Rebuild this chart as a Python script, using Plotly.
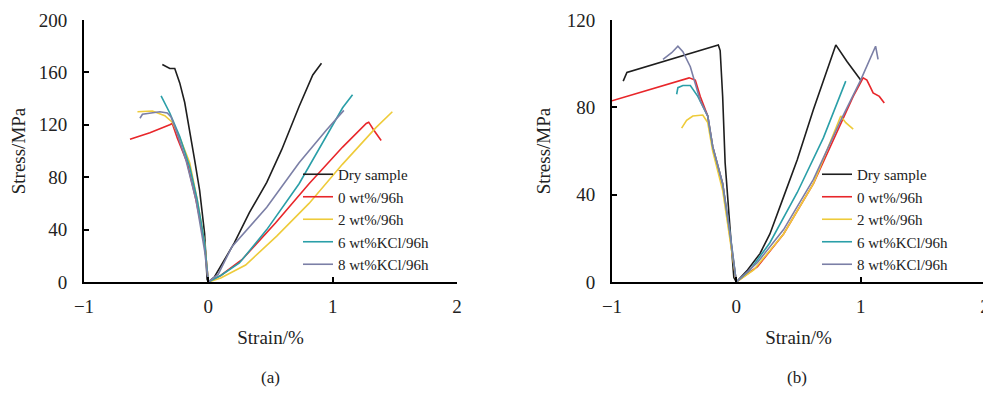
import plotly.graph_objects as go

# ---------------- data: panel (a) ----------------
series_names = ["Dry sample", "0 wt%/96h", "2 wt%/96h", "6 wt%KCl/96h", "8 wt%KCl/96h"]
colors = ["#1e1e1e", "#e8262a", "#eecb3a", "#2a9fa8", "#7b7fa6"]

dry_a_x = [-0.37, -0.31, -0.27, -0.23, -0.19, -0.15, -0.11, -0.07, -0.03, -0.01, 0,
           0.05, 0.10, 0.21, 0.33, 0.47, 0.59, 0.73, 0.84, 0.91]
dry_a_y = [166, 163, 163, 152, 137, 116, 93, 70, 37, 2, 0,
           4, 12, 30, 53, 76, 101, 134, 158, 167]

red_a_x = [-0.63, -0.47, -0.31, -0.29, -0.25, -0.17, -0.10, -0.03, 0,
           0.10, 0.27, 0.54, 0.81, 1.08, 1.27, 1.29, 1.33, 1.39]
red_a_y = [109, 114, 120, 121, 110, 91, 63, 30, 0,
           5, 17, 45, 75, 103, 121, 122, 116, 108]

yel_a_x = [-0.57, -0.45, -0.35, -0.29, -0.22, -0.15, -0.09, -0.03, 0,
           0.10, 0.30, 0.55, 0.81, 1.08, 1.35, 1.48]
yel_a_y = [130, 130.5, 127, 122, 108, 91, 63, 30, 0,
           3, 13, 35, 60, 90, 118, 130]

teal_a_x = [-0.38, -0.31, -0.23, -0.15, -0.09, -0.03, 0,
            0.10, 0.25, 0.47, 0.73, 0.95, 1.08, 1.16]
teal_a_y = [142, 129, 111, 88, 63, 30, 0,
            5, 14.5, 40, 75, 111, 133, 143]

gray_a_x = [-0.55, -0.53, -0.39, -0.33, -0.30, -0.26, -0.18, -0.10, -0.03, 0,
            0.08, 0.19, 0.47, 0.73, 0.95, 1.09]
gray_a_y = [125, 128, 130, 129, 126, 116, 93, 63, 24, 0,
            6, 27, 57, 91, 116, 131]

# ---------------- data: panel (b) ----------------
dry_b_x = [-0.91, -0.88, -0.145, -0.13, -0.11, -0.09, -0.05, -0.02, 0,
           0.09, 0.19, 0.27, 0.38, 0.49, 0.62, 0.73, 0.80, 0.89, 1.00]
dry_b_y = [92, 96, 108.6, 106, 85, 54.5, 24, 2, 0,
           5.5, 13, 22, 39, 56, 79, 97, 108.6, 101, 92.5]

red_b_x = [-1.0, -0.88, -0.69, -0.51, -0.38, -0.33, -0.29, -0.23, -0.19, -0.11, -0.06, 0,
           0.17, 0.38, 0.62, 0.84, 0.94, 1.02, 1.05, 1.08, 1.10, 1.15, 1.19]
red_b_y = [83, 85, 88, 91, 93.5, 92.5, 85, 76, 62, 45, 24, 0,
           7, 22, 45, 73, 85, 93.5, 92.5, 89, 86.6, 85, 82]

yel_b_x = [-0.44, -0.40, -0.35, -0.27, -0.23, -0.19, -0.11, -0.05, 0,
           0.14, 0.38, 0.62, 0.84, 0.88, 0.94]
yel_b_y = [70.5, 74, 76, 76.5, 73, 60, 42, 18, 0,
           5.5, 22, 45, 76, 73, 70]

teal_b_x = [-0.48, -0.47, -0.43, -0.37, -0.31, -0.23, -0.19, -0.11, -0.05, 0,
            0.11, 0.27, 0.49, 0.70, 0.88]
teal_b_y = [86, 89, 90, 90, 85, 76, 62, 45, 22, 0,
            5.5, 18, 41, 66, 92]

gray_b_x = [-0.59, -0.52, -0.47, -0.43, -0.37, -0.29, -0.23, -0.19, -0.11, -0.05, 0,
            0.17, 0.38, 0.62, 0.84, 1.00, 1.12, 1.14]
gray_b_y = [102, 105, 108, 105.5, 98.6, 83, 76, 62, 45, 22, 0,
            9, 24, 47, 74, 92.5, 108, 102]

x_ticks = [-1, 0, 1, 2]
y_ticks_a = [0, 40, 80, 120, 160, 200]
y_ticks_b = [0, 40, 80, 120]

panel_a = [(dry_a_x, dry_a_y), (red_a_x, red_a_y), (yel_a_x, yel_a_y),
           (teal_a_x, teal_a_y), (gray_a_x, gray_a_y)]
panel_b = [(dry_b_x, dry_b_y), (red_b_x, red_b_y), (yel_b_x, yel_b_y),
           (teal_b_x, teal_b_y), (gray_b_x, gray_b_y)]

FONT = "Liberation Serif, Times New Roman, serif"

fig = go.Figure()
for i, (xs, ys) in enumerate(panel_a):
    fig.add_trace(go.Scatter(x=xs, y=ys, mode="lines", name=series_names[i],
                             line=dict(color=colors[i], width=1.6),
                             xaxis="x", yaxis="y", legend="legend"))
for i, (xs, ys) in enumerate(panel_b):
    fig.add_trace(go.Scatter(x=xs, y=ys, mode="lines", name=series_names[i],
                             line=dict(color=colors[i], width=1.6),
                             xaxis="x2", yaxis="y2", legend="legend2"))

# page body has an 8px margin; the figure starts 8px in from the window corner
OFF = 8
W, H = 991, 395 - 2 * OFF


def px(p):
    return (p - OFF) / W


def py(p):
    return 1 - (p - OFF) / H


ydom = [py(282), py(20)]

axis_common = dict(showline=True, linecolor="black", linewidth=2, showgrid=False,
                   zeroline=False, ticks="inside", ticklen=5, tickwidth=1.5,
                   tickcolor="black", tickfont=dict(family=FONT, size=19, color="#222"),
                   fixedrange=True, automargin=False, ticklabeloverflow="allow")

fig.update_layout(
    width=W, height=H,
    autosize=False,
    margin=dict(l=0, r=0, t=0, b=0, pad=0),
    paper_bgcolor="white", plot_bgcolor="white",
    font=dict(family=FONT, color="#222"),
    xaxis=dict(domain=[px(84), px(457)], anchor="y", range=[-1, 2], tickvals=x_ticks,
               ticklabelstandoff=6,
               title=dict(text="Strain/%", font=dict(family=FONT, size=19), standoff=15),
               **axis_common),
    yaxis=dict(domain=ydom, anchor="x", range=[0, 200], tickvals=y_ticks_a,
               ticklabelstandoff=11,
               title=dict(text="Stress/MPa", font=dict(family=FONT, size=19), standoff=11),
               **axis_common),
    xaxis2=dict(domain=[px(612), px(985)], anchor="y2", range=[-1, 2], tickvals=x_ticks,
                ticklabelstandoff=6,
                title=dict(text="Strain/%", font=dict(family=FONT, size=19), standoff=15),
                **axis_common),
    yaxis2=dict(domain=ydom, anchor="x2", range=[0, 120], tickvals=y_ticks_b,
                ticklabelstandoff=11,
                title=dict(text="Stress/MPa", font=dict(family=FONT, size=19), standoff=11),
                **axis_common),
    legend=dict(x=px(298), y=py(158), xanchor="left", yanchor="top",
                bgcolor="rgba(0,0,0,0)", borderwidth=0, tracegroupgap=0,
                font=dict(family=FONT, size=15, color="#222")),
    legend2=dict(x=px(817), y=py(158), xanchor="left", yanchor="top",
                 bgcolor="rgba(0,0,0,0)", borderwidth=0, tracegroupgap=0,
                 font=dict(family=FONT, size=15, color="#222")),
    showlegend=True,
    annotations=[
        dict(text="(a)", x=px(270), y=py(377), xref="paper", yref="paper",
             xanchor="center", yanchor="middle",
             showarrow=False, font=dict(family=FONT, size=17, color="#222")),
        dict(text="(b)", x=px(797), y=py(377), xref="paper", yref="paper",
             xanchor="center", yanchor="middle",
             showarrow=False, font=dict(family=FONT, size=17, color="#222")),
    ],
)

fig.write_html("out.html")
